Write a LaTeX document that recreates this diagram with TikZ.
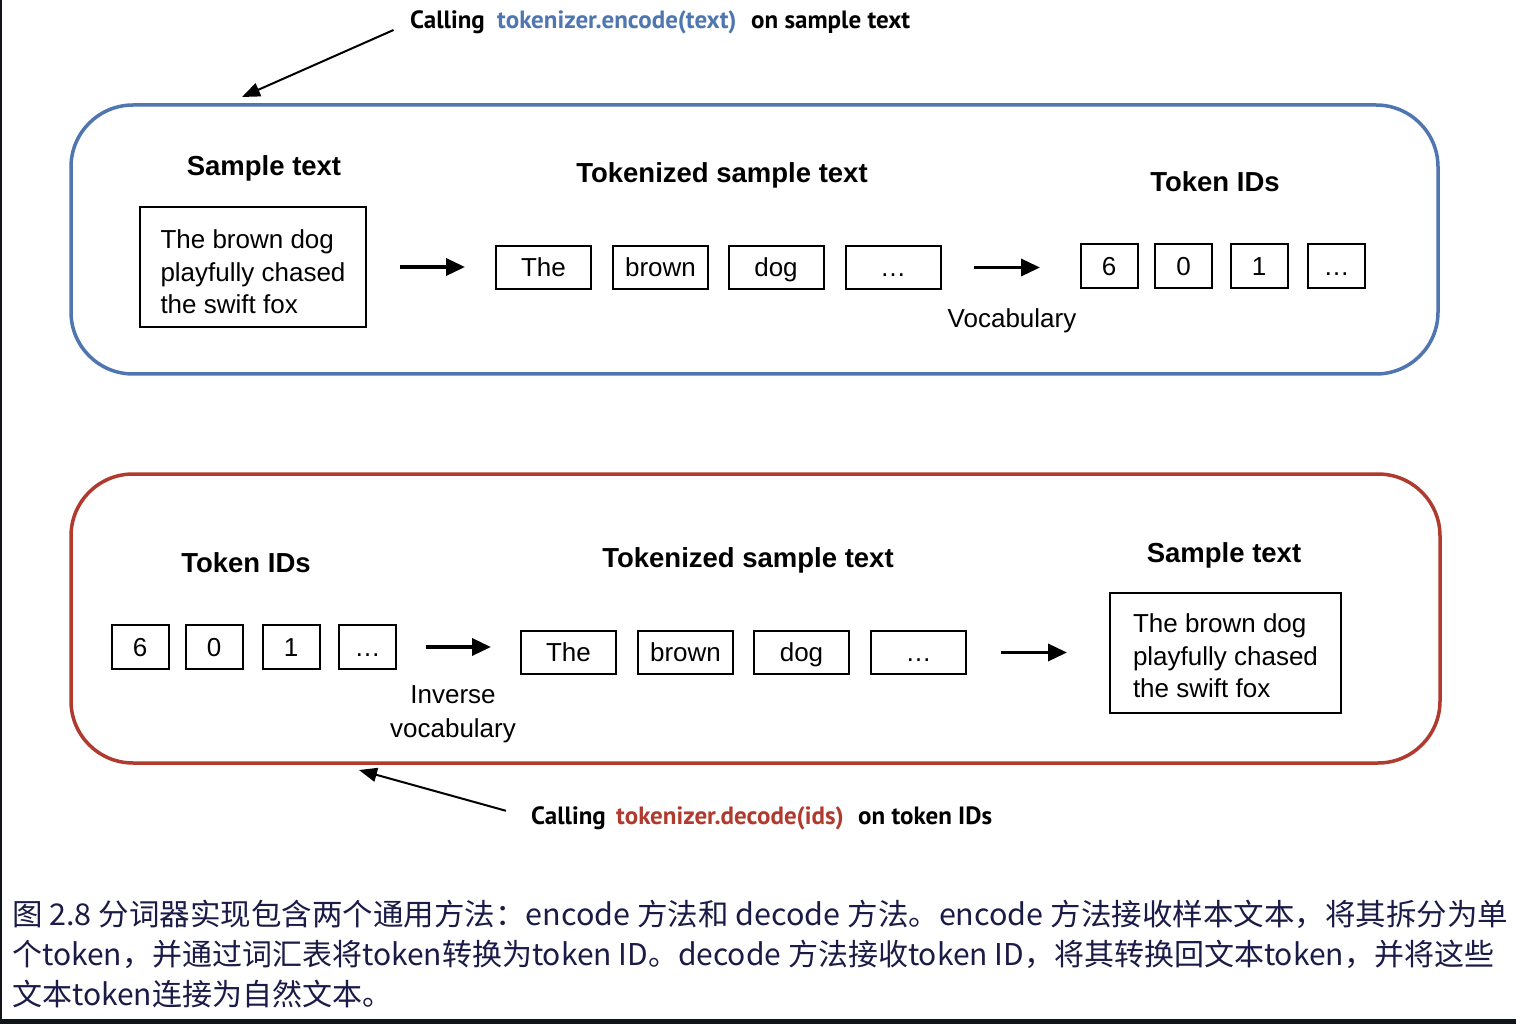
\documentclass[tikz,border=0pt]{standalone}
\usepackage{fontspec}
\setmainfont{Liberation Sans}
\newfontfamily\callfont{PT Sans}
\newfontfamily\cjk{Noto Sans CJK SC}
\usetikzlibrary{arrows.meta}
\definecolor{encblue}{HTML}{5076B2}
\definecolor{decred}{HTML}{B03A2E}
\definecolor{capnavy}{HTML}{1B1B48}
\definecolor{barblack}{HTML}{111418}
\begin{document}
\begin{tikzpicture}[x=1pt,y=-1pt,
 bodytxt/.style={font=\fontsize{26}{32.5}\selectfont},
 headtxt/.style={font=\fontsize{27.5}{33}\selectfont\bfseries},
 tokbox/.style={draw,line width=2,minimum width=95,minimum height=43,inner sep=0,text height=20,text depth=1.3,bodytxt},
 idbox/.style={draw,line width=2,minimum width=57,minimum height=44,inner sep=0,text height=20,text depth=1.3,bodytxt},
 txtbox/.style={draw,line width=2,minimum height=120,inner sep=0},
 txtlines/.style={align=left,inner sep=0,bodytxt},
 panelbox/.style={draw,line width=3.5,rounded corners=62,inner sep=0},
 flowarrow/.style={line width=3.5,-{Triangle[length=19,width=17]}},
 notearrow/.style={line width=2,-{Triangle[length=18,width=14]}},
 calltxt/.style={font=\fontsize{25}{30}\selectfont\callfont\bfseries,anchor=base west,inner sep=0},
 captxt/.style={font=\fontsize{30}{40}\selectfont\cjk,text=capnavy,anchor=base west,inner sep=0},
]
\path[use as bounding box,fill=white] (0,0) rectangle (1516,1024);
\fill[barblack] (0,0) rectangle (1.5,1019);
\fill[barblack] (0,1019) rectangle (1516,1024);

% ---------- encode panel ----------
\node[panelbox,draw=encblue,minimum width=1367,minimum height=269] (enc) at (754.5,239.5) {};
\node[headtxt] (h1) at (264,168) {Sample text};
\node[txtbox,minimum width=226] (s1) at (253,267) {};
\node[txtlines] (s1t) at (253,272) {The brown dog\\playfully chased\\the swift fox};
\node[headtxt] (h2) at (722,175) {Tokenized sample text};
\node[tokbox] (t1) at (543.5,267.5) {The};
\node[tokbox] (t2) at (660.5,267.5) {brown};
\node[tokbox] (t3) at (776,267.5) {dog};
\node[tokbox] (t4) at (893,267.5) {…};
\node[bodytxt] (voc) at (1012,321) {Vocabulary};
\node[headtxt] (h3) at (1215,182) {Token IDs};
\node[idbox] (i1) at (1109,266) {6};
\node[idbox] (i2) at (1183.5,266) {0};
\node[idbox] (i3) at (1259,266) {1};
\node[idbox] (i4) at (1336.5,266) {…};
\draw[flowarrow,shorten <=33pt,shorten >=30pt] (s1.east) -- (s1.east -| t1.west);
\draw[flowarrow,shorten <=32.5pt,shorten >=39.5pt] (t4.east) -- (t4.east -| i1.west);

\node[calltxt] (c1) at (410,29) {Calling};
\node[calltxt,text=encblue] (c2) at (497,29) {tokenizer.encode(text)};
\node[calltxt] (c3) at (751,29) {on sample text};
\coordinate (encTip) at (242,97);
\draw[notearrow,shorten <=18pt] (c1.west) -- (encTip);

% ---------- decode panel ----------
\node[panelbox,draw=decred,minimum width=1369,minimum height=289] (dec) at (755.5,618.5) {};
\node[headtxt] (g1) at (246,563) {Token IDs};
\node[idbox] (j1) at (140,647) {6};
\node[idbox] (j2) at (214,647) {0};
\node[idbox] (j3) at (291,647) {1};
\node[idbox] (j4) at (367.5,647) {…};
\node[align=center,inner sep=0,font=\fontsize{26}{34}\selectfont] (inv) at (453,714) {Inverse\\vocabulary};
\node[headtxt] (g2) at (748,560) {Tokenized sample text};
\node[tokbox] (u1) at (568.5,652.5) {The};
\node[tokbox] (u2) at (685.5,652.5) {brown};
\node[tokbox] (u3) at (801.5,652.5) {dog};
\node[tokbox] (u4) at (918.5,652.5) {…};
\node[headtxt] (g3) at (1224,555) {Sample text};
\node[txtbox,minimum width=231] (s2) at (1225.5,653) {};
\node[txtlines] (s2t) at (1225.5,656) {The brown dog\\playfully chased\\the swift fox};
\draw[flowarrow,shorten <=29pt,shorten >=29pt] (j4.east) -- (j4.east -| u1.west);
\draw[flowarrow,shorten <=34pt,shorten >=42pt] (u4.east) -- (u4.east -| s2.west);

\node[calltxt] (d1) at (531,824) {Calling};
\node[calltxt,text=decred] (d2) at (616,824) {tokenizer.decode(ids)};
\node[calltxt] (d3) at (858,824) {on token IDs};
\coordinate (decTip) at (359,770);
\draw[notearrow,shorten <=26pt] (d1.west) -- (decTip);

% ---------- caption ----------
\node[captxt] (l1) at (12,925) {\scalebox{1.017}[1]{图 2.8 分词器实现包含两个通用方法：encode 方法和 decode 方法。encode 方法接收样本文本，将其拆分为单}};
\node[captxt] (l2) at (12,965) {个token，并通过词汇表将token转换为token ID。decode 方法接收token ID，将其转换回文本token，并将这些};
\node[captxt] (l3) at (12,1005) {文本token连接为自然文本。};
\end{tikzpicture}
\end{document}
